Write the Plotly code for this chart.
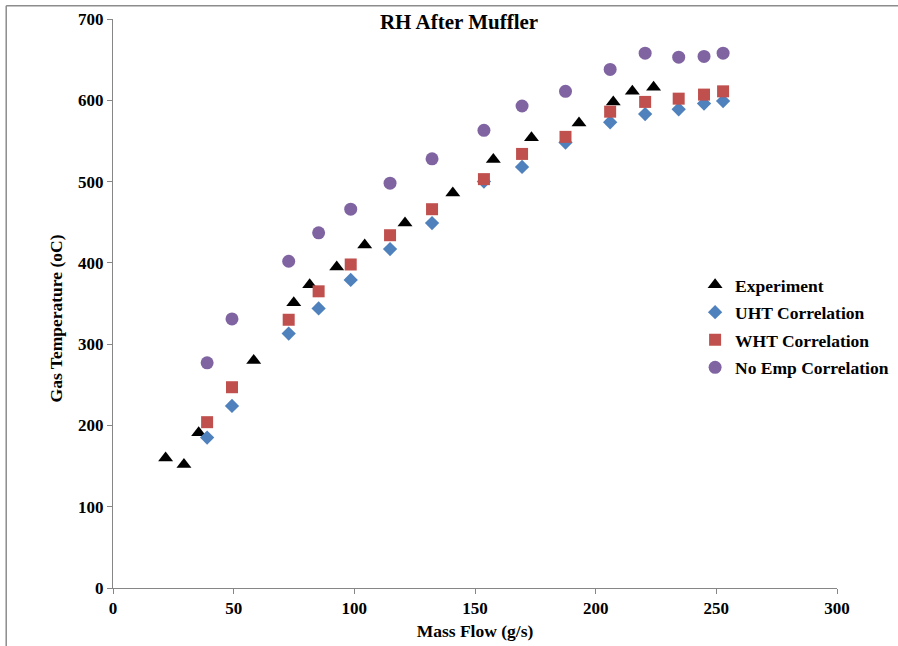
import plotly.graph_objects as go

# Data
exp_x = [21.8, 29.4, 35.5, 58.3, 74.9, 81.5, 92.7, 104.3, 121.0, 140.8, 157.6, 173.4, 193.1, 207.3, 215.2, 224.0]
exp_y = [160, 152, 191, 280, 351, 373, 395, 422, 449, 486, 527, 554, 572, 598, 611, 616]

corr_x = [39.0, 49.3, 72.8, 85.2, 98.5, 114.8, 132.2, 153.7, 169.5, 187.5, 206.0, 220.5, 234.4, 244.9, 252.8]
uht_y = [185, 224, 313, 344, 379, 417, 449, 500, 518, 548, 573, 583, 589, 596, 599]
wht_y = [204, 247, 330, 365, 398, 434, 466, 503, 534, 555, 586, 598, 602, 607, 611]
noemp_y = [277, 331, 402, 437, 466, 498, 528, 563, 593, 611, 638, 658, 653, 654, 658]

x_ticks = [0, 50, 100, 150, 200, 250, 300]
y_ticks = [0, 100, 200, 300, 400, 500, 600, 700]

FONT = "Liberation Serif, Times New Roman, serif"

fig = go.Figure()
fig.add_trace(go.Scatter(x=exp_x, y=exp_y, mode="markers", name="Experiment", legendgroup="a",
                         marker=dict(symbol="triangle-up", size=13, color="black")))
fig.add_trace(go.Scatter(x=corr_x, y=uht_y, mode="markers", name="UHT Correlation", legendgroup="b",
                         marker=dict(symbol="diamond", size=11, color="#4F81BD")))
fig.add_trace(go.Scatter(x=corr_x, y=wht_y, mode="markers", name="WHT Correlation", legendgroup="c",
                         marker=dict(symbol="square", size=12, color="#C0504D")))
fig.add_trace(go.Scatter(x=corr_x, y=noemp_y, mode="markers", name="No Emp Correlation", legendgroup="d",
                         marker=dict(symbol="circle", size=13, color="#8064A2")))

axis_common = dict(showgrid=False, zeroline=False, showline=True, linecolor="#868686", linewidth=1,
                   ticks="outside", tickcolor="#868686", ticklen=5, automargin=False,
                   tickfont=dict(family=FONT, size=17, color="black", weight="bold"))

fig.update_layout(
    width=898, height=646,
    margin=dict(l=113, r=61, t=19, b=58, autoexpand=False),
    paper_bgcolor="white", plot_bgcolor="white",
    font=dict(family=FONT, color="black"),
    title=dict(text="RH After Muffler", x=459/898, xanchor="center", y=1 - 22/646, yanchor="middle",
               font=dict(family=FONT, size=21, color="black", weight="bold")),
    xaxis=dict(range=[0, 300], tickvals=x_ticks,
               title=dict(text="Mass Flow (g/s)", standoff=7,
                          font=dict(family=FONT, size=17.5, color="black", weight="bold")),
               **axis_common),
    yaxis=dict(range=[0, 700], tickvals=y_ticks, **axis_common),
    legend=dict(x=0.804, y=0.5645, xanchor="left", yanchor="top", bgcolor="rgba(0,0,0,0)",
                itemwidth=30, tracegroupgap=1.8, traceorder="grouped",
                font=dict(family=FONT, size=17.5, color="black", weight="bold")),
    showlegend=True,
    annotations=[
        dict(text="Gas Temperature (oC)", textangle=-90, xref="paper", yref="paper",
             x=(56.5 - 113.3) / 724, y=(588.3 - 318.5) / 569, xanchor="center", yanchor="middle",
             showarrow=False, font=dict(family=FONT, size=17.5, color="black", weight="bold")),
    ],
    shapes=[
        dict(type="line", xref="paper", yref="paper", x0=-0.1475, x1=1.09, y0=1.0234, y1=1.0234,
             line=dict(color="#8c8c8c", width=1.5)),
        dict(type="line", xref="paper", yref="paper", x0=-0.1475, x1=-0.1475, y0=1.0234, y1=-0.11,
             line=dict(color="#8c8c8c", width=1.5)),
    ],
)

fig.write_html("out.html")
